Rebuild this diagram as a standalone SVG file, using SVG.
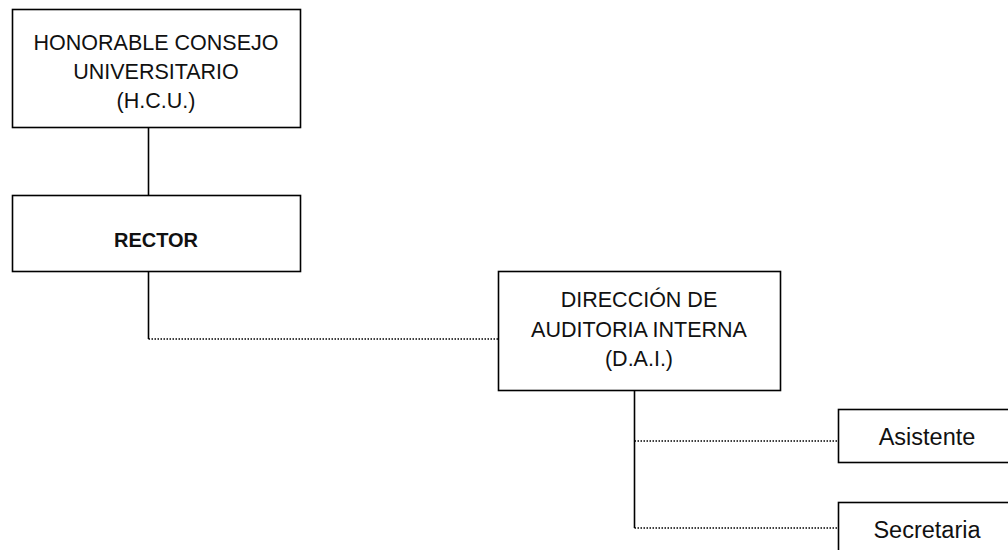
<svg xmlns="http://www.w3.org/2000/svg" width="1008" height="550" viewBox="0 0 1008 550">
<style>
.box{fill:#fff;stroke:#000;stroke-width:1.6}
.t{font-family:"Liberation Sans",Arial,sans-serif;font-size:21.5px;fill:#111;text-anchor:middle}
.b{font-weight:bold;font-size:20px}
.l{font-size:23.5px}
.solid{fill:none;stroke:#000;stroke-width:1.6}
.dot{fill:none;stroke:#000;stroke-width:1.6;stroke-dasharray:1.5 1.5}
</style>
<rect width="1008" height="550" fill="#fff"/>
<g id="connectors">
<line class="solid" x1="148.5" y1="127" x2="148.5" y2="195"/>
<line class="solid" x1="148.5" y1="271" x2="148.5" y2="339"/>
<line class="dot" x1="148.5" y1="339" x2="498" y2="339"/>
<line class="solid" x1="634.5" y1="390" x2="634.5" y2="528"/>
<line class="dot" x1="634.5" y1="441" x2="838" y2="441"/>
<line class="dot" x1="634.5" y1="528" x2="838" y2="528"/>
</g>
<g id="hcu">
<rect class="box" x="12.5" y="9.5" width="288" height="118"/>
<text class="t" x="156" y="50">HONORABLE CONSEJO</text>
<text class="t" x="156" y="79">UNIVERSITARIO</text>
<text class="t" x="156" y="108">(H.C.U.)</text>
</g>
<g id="rector">
<rect class="box" x="12.5" y="195.5" width="288" height="76"/>
<text class="t b" x="156" y="247">RECTOR</text>
</g>
<g id="dai">
<rect class="box" x="498.5" y="271.5" width="282" height="119"/>
<text class="t" x="639" y="307">DIRECCIÓN DE</text>
<text class="t" x="639" y="337">AUDITORIA INTERNA</text>
<text class="t" x="639" y="366">(D.A.I.)</text>
</g>
<g id="asistente">
<rect class="box" x="838.5" y="409.5" width="180" height="53"/>
<text class="t l" x="927" y="445">Asistente</text>
</g>
<g id="secretaria">
<rect class="box" x="838.5" y="502.5" width="180" height="60"/>
<text class="t l" x="927" y="538">Secretaria</text>
</g>
</svg>
